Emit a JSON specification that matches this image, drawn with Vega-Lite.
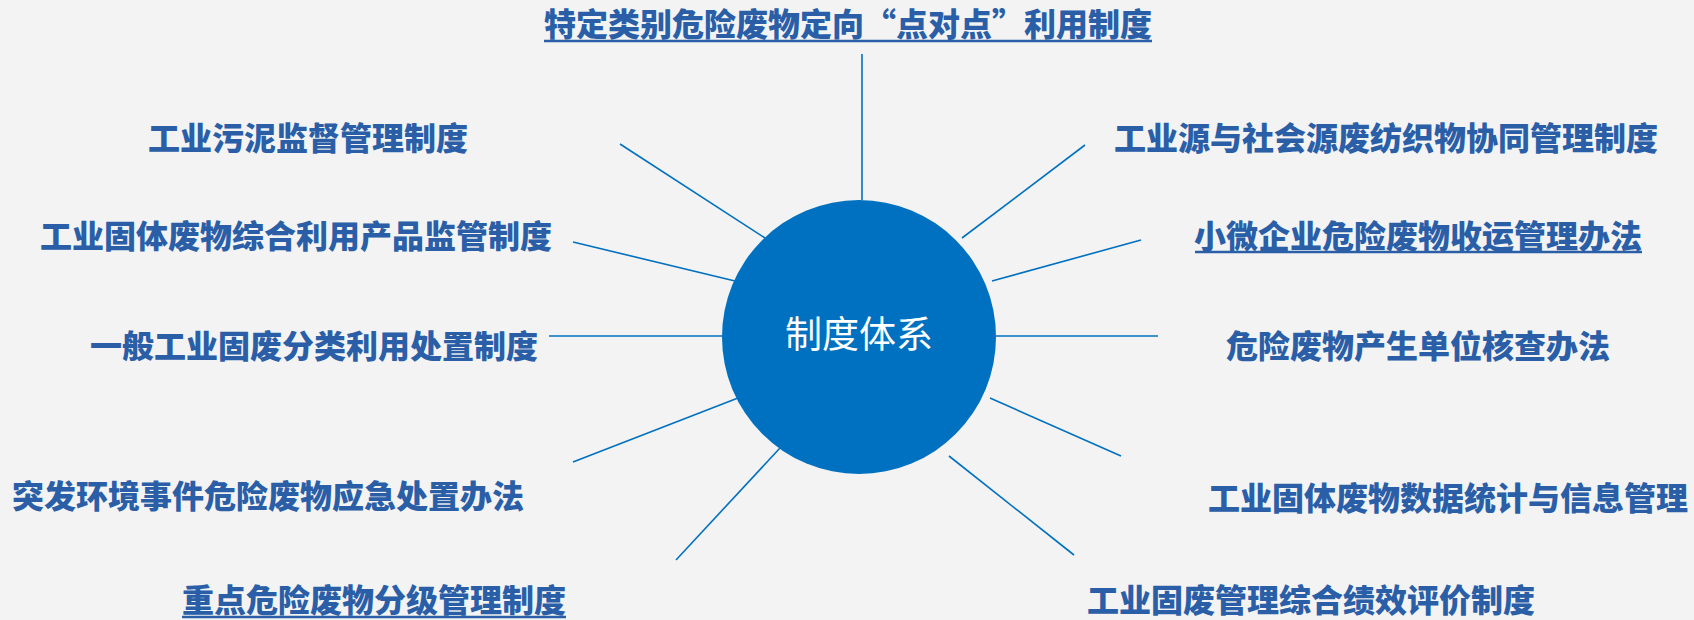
{
  "$schema": "https://vega.github.io/schema/vega-lite/v6.json",
  "width": 1694,
  "height": 620,
  "autosize": "none",
  "padding": 0,
  "background": "#f3f3f3",
  "config": {"view": {"stroke": null}},
  "datasets": {
    "spokes": [
      {"x": 862, "y": 54, "x2": 862, "y2": 200},
      {"x": 620, "y": 144, "x2": 765, "y2": 238},
      {"x": 573, "y": 242, "x2": 735, "y2": 281},
      {"x": 549, "y": 336, "x2": 722, "y2": 336},
      {"x": 573, "y": 462, "x2": 738, "y2": 398},
      {"x": 676, "y": 560, "x2": 780, "y2": 448},
      {"x": 1085, "y": 145, "x2": 962, "y2": 238},
      {"x": 1141, "y": 240, "x2": 992, "y2": 281},
      {"x": 996, "y": 336, "x2": 1158, "y2": 336},
      {"x": 990, "y": 398, "x2": 1121, "y2": 456},
      {"x": 949, "y": 456, "x2": 1074, "y2": 555}
    ],
    "labels": [
      {"label": "特定类别危险废物定向“点对点”利用制度", "x": 848, "y": 26},
      {"label": "工业污泥监督管理制度", "x": 308, "y": 140},
      {"label": "工业固体废物综合利用产品监管制度", "x": 296, "y": 238},
      {"label": "一般工业固废分类利用处置制度", "x": 314, "y": 348},
      {"label": "突发环境事件危险废物应急处置办法", "x": 268, "y": 498},
      {"label": "重点危险废物分级管理制度", "x": 374, "y": 602},
      {"label": "工业源与社会源废纺织物协同管理制度", "x": 1386, "y": 140},
      {"label": "小微企业危险废物收运管理办法", "x": 1418, "y": 238},
      {"label": "危险废物产生单位核查办法", "x": 1418, "y": 348},
      {"label": "工业固体废物数据统计与信息管理", "x": 1448, "y": 500},
      {"label": "工业固废管理综合绩效评价制度", "x": 1311, "y": 602}
    ],
    "underlines": [
      {"x": 544, "x2": 1152, "y": 41},
      {"x": 1195, "x2": 1642, "y": 252},
      {"x": 182, "x2": 566, "y": 617}
    ],
    "hub": [
      {"label": "制度体系", "x": 859, "y": 337}
    ]
  },
  "layer": [
    {
      "data": {"name": "spokes"},
      "mark": {"type": "rule", "color": "#0070c0", "strokeWidth": 1.6},
      "encoding": {
        "x": {"field": "x", "type": "quantitative", "scale": {"domain": [0, 1694], "zero": false, "nice": false}, "axis": null},
        "y": {"field": "y", "type": "quantitative", "scale": {"domain": [0, 620], "reverse": true, "zero": false, "nice": false}, "axis": null},
        "x2": {"field": "x2"},
        "y2": {"field": "y2"}
      }
    },
    {
      "data": {"name": "hub"},
      "mark": {"type": "point", "shape": "circle", "filled": true, "color": "#0070c0", "opacity": 1, "size": 75076},
      "encoding": {
        "x": {"field": "x", "type": "quantitative", "axis": null},
        "y": {"field": "y", "type": "quantitative", "axis": null}
      }
    },
    {
      "data": {"name": "hub"},
      "mark": {"type": "text", "color": "#ffffff", "font": "Noto Sans CJK SC", "fontSize": 37, "align": "center", "baseline": "middle"},
      "encoding": {
        "x": {"field": "x", "type": "quantitative", "axis": null},
        "y": {"field": "y", "type": "quantitative", "axis": null},
        "text": {"field": "label"}
      }
    },
    {
      "data": {"name": "labels"},
      "mark": {"type": "text", "color": "#2a5fa8", "font": "Noto Sans CJK SC", "fontSize": 32, "fontWeight": 900, "align": "center", "baseline": "middle"},
      "encoding": {
        "x": {"field": "x", "type": "quantitative", "axis": null},
        "y": {"field": "y", "type": "quantitative", "axis": null},
        "text": {"field": "label"}
      }
    },
    {
      "data": {"name": "underlines"},
      "mark": {"type": "rule", "color": "#2a5fa8", "strokeWidth": 2.5},
      "encoding": {
        "x": {"field": "x", "type": "quantitative", "axis": null},
        "x2": {"field": "x2"},
        "y": {"field": "y", "type": "quantitative", "axis": null}
      }
    }
  ]
}
